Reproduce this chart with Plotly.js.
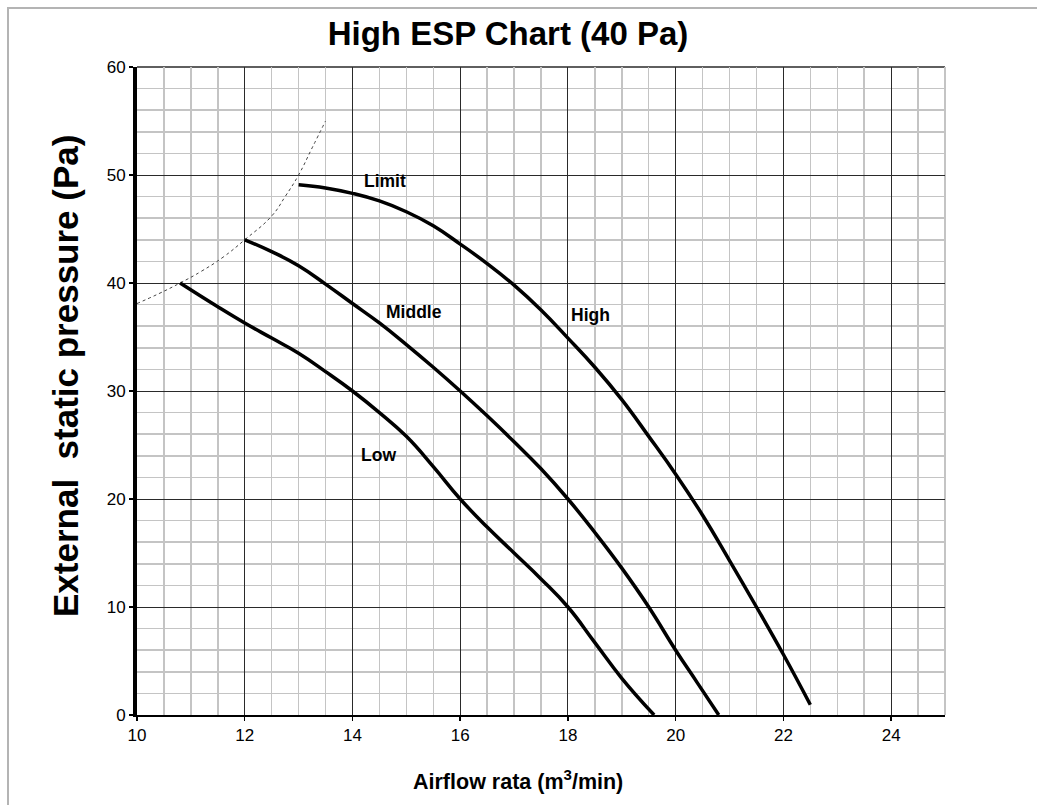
<!DOCTYPE html>
<html>
<head>
<meta charset="utf-8">
<script src="https://cdn.plot.ly/plotly-3.0.1.min.js"></script>
<style>
  html, body { margin: 0; padding: 0; background: #fff; }
  #wrap { position: relative; width: 1037px; height: 805px; overflow: hidden; }
  #frame { position: absolute; left: 7px; top: 7px; width: 1040px; height: 810px;
           border-left: 2px solid #b4b4b4; border-top: 2px solid #b4b4b4; pointer-events: none; }
  #chart { position: absolute; left: 0; top: 0; width: 1037px; height: 805px; }
</style>
</head>
<body>
<div id="wrap">
  <div id="chart"></div>
  <div id="frame"></div>
</div>
<script>
// Limit boundary (dotted)
const limitX = [10.0, 10.4, 10.8, 11.2, 11.6, 12.0, 12.5, 12.75, 13.0, 13.25, 13.5];
const limitY = [38.1, 39.0, 40.0, 41.1, 42.4, 44.0, 46.2, 48.0, 50.0, 52.5, 55.0];

// High fan speed
const highX = [13.0, 13.5, 14.0, 14.5, 15.0, 15.5, 16.0, 16.5, 17.0, 17.5, 18.0, 18.5, 19.0, 19.5, 20.0, 20.5, 21.0, 21.5, 22.0, 22.5];
const highY = [49.1, 48.8, 48.3, 47.6, 46.6, 45.3, 43.6, 41.8, 39.8, 37.5, 34.9, 32.2, 29.2, 25.8, 22.3, 18.5, 14.3, 10.0, 5.6, 0.95];

// Middle fan speed
const midX = [12.0, 12.5, 13.0, 13.5, 14.0, 14.5, 15.0, 15.5, 16.0, 16.5, 17.0, 17.5, 18.0, 18.5, 19.0, 19.5, 20.0, 20.4, 20.8];
const midY = [44.0, 42.9, 41.6, 39.9, 38.1, 36.3, 34.3, 32.2, 30.0, 27.7, 25.3, 22.8, 20.0, 16.9, 13.6, 10.0, 6.0, 3.0, 0.0];

// Low fan speed
const lowX = [10.8, 11.5, 12.0, 12.5, 13.0, 13.5, 14.0, 14.5, 15.0, 15.5, 16.0, 16.5, 17.0, 17.5, 18.0, 18.5, 19.0, 19.6];
const lowY = [40.0, 37.8, 36.3, 34.9, 33.5, 31.8, 30.0, 28.0, 25.8, 23.0, 20.0, 17.4, 15.0, 12.6, 10.0, 6.7, 3.4, 0.0];

// Curve labels
const labelText = ["Limit", "Middle", "High", "Low"];
const labelX = [14.6, 15.14, 18.42, 14.49];
const labelY = [49.4, 37.35, 37.0, 24.1];

const titleText = "High ESP Chart (40 Pa)";
const xTitle = "Airflow rata (m<sup>3</sup>/min)";
const yTitle = "External&nbsp;&nbsp;static pressure (Pa)";

const FONT = "Liberation Sans, Arial, Helvetica, sans-serif";

const curve = (x, y, name) => ({
  x: x, y: y, name: name, type: "scatter", mode: "lines",
  line: { color: "#000", width: 3.5, shape: "spline", smoothing: 1.3 },
  hoverinfo: "skip"
});

const data = [
  { x: limitX, y: limitY, name: "Limit", type: "scatter", mode: "lines",
    line: { color: "#444", width: 1, dash: "dot", shape: "spline", smoothing: 1.3 }, hoverinfo: "skip" },
  curve(highX, highY, "High"),
  curve(midX, midY, "Middle"),
  curve(lowX, lowY, "Low")
];

const annotations = labelText.map((t, i) => ({
  x: labelX[i], y: labelY[i], xref: "x", yref: "y", text: "<b>" + t + "</b>",
  showarrow: false, font: { family: FONT, size: 17.5, color: "#000" }
}));

annotations.push({
  xref: "paper", yref: "paper", x: (518 - 137) / 808, y: -(780 - 715) / 648,
  text: "<b>" + xTitle + "</b>", showarrow: false,
  font: { family: FONT, size: 21.5, color: "#000" }, xanchor: "center", yanchor: "middle"
});
annotations.push({
  xref: "paper", yref: "paper", x: -(137 - 65) / 808, y: (715 - 376) / 648,
  text: "<b>" + yTitle + "</b>", showarrow: false, textangle: -90,
  font: { family: FONT, size: 35, color: "#000" }, xanchor: "center", yanchor: "middle"
});

const layout = {
  width: 1037, height: 805,
  margin: { l: 137, r: 92, t: 67, b: 90, pad: 0 },
  paper_bgcolor: "#fff", plot_bgcolor: "#fff",
  showlegend: false,
  font: { family: FONT, color: "#000" },
  title: {
    text: "<b>" + titleText + "</b>",
    font: { family: FONT, size: 33, color: "#000" },
    xref: "container", yref: "container",
    x: 508 / 1037, y: 1 - 33 / 805, xanchor: "center", yanchor: "middle"
  },
  xaxis: {
    range: [10, 25], dtick: 2, tick0: 10,
    showgrid: true, gridcolor: "#2a2a2a", gridwidth: 1,
    minor: { dtick: 0.5, showgrid: true, gridcolor: "#c4c4c4", gridwidth: 1.5 },
    showline: true, linecolor: "#000", linewidth: 1.5,
    ticks: "outside", ticklen: 4, tickwidth: 1.5, tickcolor: "#000",
    tickfont: { family: FONT, size: 17, color: "#000" },
    zeroline: false, fixedrange: true
  },
  yaxis: {
    range: [0, 60], dtick: 10, tick0: 0,
    showgrid: true, gridcolor: "#2a2a2a", gridwidth: 1,
    minor: { dtick: 2, showgrid: true, gridcolor: "#c4c4c4", gridwidth: 1.5 },
    showline: true, linecolor: "#000", linewidth: 4,
    ticks: "outside", ticklen: 4, tickwidth: 2, tickcolor: "#000",
    tickfont: { family: FONT, size: 17, color: "#000" },
    zeroline: false, fixedrange: true
  },
  shapes: [
    { type: "line", xref: "paper", yref: "paper", x0: 0, x1: 1, y0: 1, y1: 1,
      line: { color: "#2a2a2a", width: 1.5 }, layer: "below" },
    { type: "line", xref: "paper", yref: "paper", x0: 1, x1: 1, y0: 0, y1: 1,
      line: { color: "#c4c4c4", width: 2 }, layer: "below" }
  ],
  annotations: annotations
};

Plotly.newPlot("chart", data, layout, { displayModeBar: false, staticPlot: true });
</script>
</body>
</html>
